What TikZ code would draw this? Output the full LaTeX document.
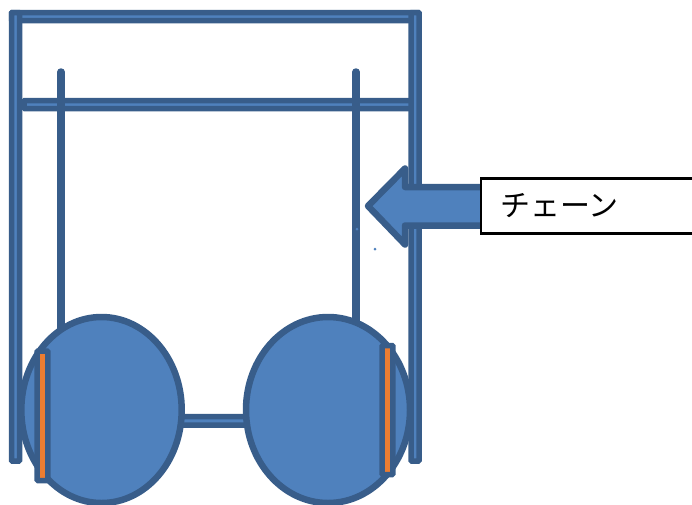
\documentclass[tikz,border=0pt]{standalone}
\usepackage{fontspec}
\newfontfamily\jpfont{Noto Sans CJK JP}[Scale=1]
\definecolor{blueface}{HTML}{4F81BD}
\definecolor{blueedge}{HTML}{385D8A}
\definecolor{orangeface}{HTML}{ED7D31}
\tikzset{
  bar/.style={draw=blueedge,fill=blueface,line width=5.5pt,rounded corners=0.8pt},
  post/.style={draw=blueedge,line width=7.5pt,line cap=round},
  wheel/.style={draw=blueedge,fill=blueface,line width=6.5pt},
  pad/.style={draw=blueedge,fill=orangeface,line width=5.5pt,rounded corners=0.8pt},
  arrowshape/.style={draw=blueedge,fill=blueface,line width=6.5pt,line join=round},
  labelbox/.style={draw=black,fill=white,line width=2.5pt},
  speck/.style={fill=blueface,inner sep=0pt,minimum size=3pt,circle}
}
\begin{document}
\begin{tikzpicture}[x=1pt,y=-1pt]
\useasboundingbox (0,0) rectangle (692,504);
\clip (0,0) rectangle (692,504);
% frame
\draw[bar] (11.5,12.5) rectangle (419,20.5);
\draw[bar] (24,100.5) rectangle (415,108.5);
\draw[bar] (11.5,12.5) rectangle (19.5,461);
\draw[bar] (411,12.5) rectangle (419,461);
% hangers
\coordinate (p1a) at (61,72);
\coordinate (p1b) at (61,335);
\coordinate (p2a) at (356,72);
\coordinate (p2b) at (356,325);
\draw[post] (p1a) -- (p1b);
\draw[post] (p2a) -- (p2b);
% axle
\draw[bar] (175,416.5) rectangle (255,425);
% wheels
\draw[wheel] (101.5,410) ellipse [x radius=80.2,y radius=93];
\draw[wheel] (328,410) ellipse [x radius=82,y radius=93];
% pads
\draw[pad] (37.2,351) rectangle (47.8,480.5);
\draw[pad] (382.2,345.5) rectangle (392.8,474.5);
% arrow
\draw[arrowshape] (368,206) -- (405,168.5) -- (405,187) -- (490,187) -- (490,225.5) -- (405,225.5) -- (405,244.5) -- cycle;
% specks
\node[speck] (s1) at (357,229) {};
\node[speck] (s2) at (375,249) {};
% label
\draw[labelbox] (481,178.5) rectangle (700,233.5);
\node[anchor=west,inner sep=0pt,font=\jpfont\fontsize{30}{30}\selectfont] (chain) at (500,206) {チェーン};
\end{tikzpicture}
\end{document}
